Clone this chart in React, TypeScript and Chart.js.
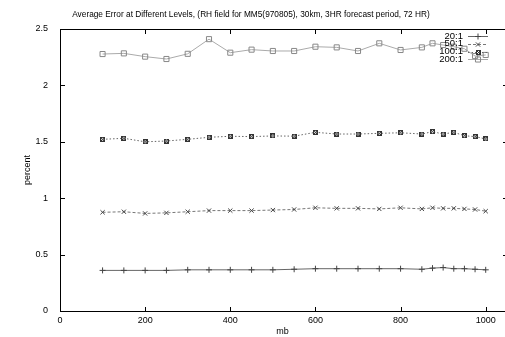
import React, { useEffect, useRef } from "react";
import { Chart, registerables } from "chart.js";
Chart.register(...registerables);

const titleText =
  "Average Error at Different Levels, (RH field for MM5(970805), 30km, 3HR forecast period, 72 HR)";
const xAxisLabel = "mb";
const yAxisLabel = "percent";

const levels = [100, 150, 200, 250, 300, 350, 400, 450, 500, 550, 600, 650, 700, 750, 800, 850, 875, 900, 925, 950, 975, 1000];

const seriesNames = ["20:1", "50:1", "100:1", "200:1"];

const ratio20 = [0.36, 0.36, 0.36, 0.36, 0.365, 0.365, 0.365, 0.365, 0.365, 0.37, 0.375, 0.375, 0.375, 0.375, 0.375, 0.37, 0.38, 0.385, 0.375, 0.375, 0.37, 0.365];
const ratio50 = [0.875, 0.88, 0.865, 0.87, 0.88, 0.89, 0.89, 0.89, 0.895, 0.9, 0.915, 0.91, 0.91, 0.905, 0.915, 0.905, 0.915, 0.91, 0.91, 0.905, 0.9, 0.885];
const ratio100 = [1.522, 1.531, 1.5, 1.507, 1.522, 1.54, 1.549, 1.546, 1.552, 1.55, 1.584, 1.569, 1.569, 1.575, 1.58, 1.569, 1.59, 1.569, 1.584, 1.554, 1.546, 1.525];
const ratio200 = [2.278, 2.284, 2.255, 2.234, 2.28, 2.41, 2.29, 2.317, 2.305, 2.305, 2.343, 2.337, 2.305, 2.373, 2.314, 2.337, 2.373, 2.358, 2.343, 2.325, 2.26, 2.27];

const xTicks = [0, 200, 400, 600, 800, 1000];
const yTicks = [0, 0.5, 1, 1.5, 2, 2.5];

const FONT = "'Liberation Sans', Arial, sans-serif";
const CANVAS_W = 512;

function makeBoxedX(color: string) {
  const c = document.createElement("canvas");
  c.width = 5;
  c.height = 5;
  const g = c.getContext("2d")!;
  g.strokeStyle = color;
  g.lineWidth = 1;
  g.strokeRect(0.5, 0.5, 4, 4);
  g.beginPath();
  g.moveTo(1, 1);
  g.lineTo(4, 4);
  g.moveTo(4, 1);
  g.lineTo(1, 4);
  g.stroke();
  return c;
}

function drawPoint(ctx: CanvasRenderingContext2D, style: any, r: number, x: number, y: number) {
  if (typeof style !== "string") {
    ctx.drawImage(style, Math.round(x - style.width / 2), Math.round(y - style.height / 2));
    return;
  }
  ctx.beginPath();
  if (style === "cross") {
    ctx.moveTo(x, y - r);
    ctx.lineTo(x, y + r);
    ctx.moveTo(x - r, y);
    ctx.lineTo(x + r, y);
  } else if (style === "crossRot") {
    const d = r * Math.SQRT1_2;
    ctx.moveTo(x - d, y - d);
    ctx.lineTo(x + d, y + d);
    ctx.moveTo(x + d, y - d);
    ctx.lineTo(x - d, y + d);
  } else if (style === "rect") {
    const s = r * Math.SQRT1_2;
    ctx.rect(x - s, y - s, 2 * s, 2 * s);
  }
  ctx.stroke();
}

export default function App() {
  const ref = useRef<HTMLCanvasElement>(null);

  useEffect(() => {
    const boxed = makeBoxedX("#333");
    const styles = [
      { color: "#666", dash: [] as number[], point: "cross" as any, radius: 3, pc: "#444" },
      { color: "#777", dash: [3, 2], point: "crossRot" as any, radius: 3, pc: "#444" },
      { color: "#666", dash: [1.5, 2], point: boxed as any, radius: 3, pc: "#333" },
      { color: "#aaa", dash: [] as number[], point: "rect" as any, radius: 3.6, pc: "#888" },
    ];
    const values = [ratio20, ratio50, ratio100, ratio200];

    const framePlugin = {
      id: "gnuframe",
      afterDraw(chart: any) {
        const ctx: CanvasRenderingContext2D = chart.ctx;
        const xs = chart.scales.x;
        const ys = chart.scales.y;
        const L = Math.round(xs.left);
        const R = Math.round(xs.right);
        const T = Math.round(ys.top);
        const B = Math.round(ys.bottom);
        ctx.save();
        ctx.globalAlpha = 1;
        ctx.globalCompositeOperation = "source-over";
        ctx.setLineDash([]);
        ctx.fillStyle = "#000";
        ctx.fillRect(L, T, R - L + 1, 1);
        ctx.fillRect(L, B, R - L + 1, 1);
        ctx.fillRect(L, T, 1, B - T + 1);
        ctx.fillRect(R, T, 1, B - T + 1);
        for (const v of yTicks) {
          const y = Math.round(ys.getPixelForValue(v));
          ctx.fillRect(L, y, 5, 1);
          ctx.fillRect(R - 4, y, 5, 1);
        }
        for (const v of xTicks) {
          const x = Math.round(xs.getPixelForValue(v));
          ctx.fillRect(x, B - 4, 1, 5);
          ctx.fillRect(x, T, 1, 5);
        }

        // titles
        ctx.font = `8.3px ${FONT}`;
        ctx.textAlign = "center";
        ctx.textBaseline = "middle";
        ctx.fillText(titleText, 251, 15);
        ctx.font = `9px ${FONT}`;
        ctx.fillText(xAxisLabel, (L + 505) / 2, 332);
        ctx.save();
        ctx.translate(28, (T + B) / 2);
        ctx.rotate(-Math.PI / 2);
        ctx.fillText(yAxisLabel, 0, 0);
        ctx.restore();

        // legend
        const textRight = 463;
        const sx0 = 468;
        const sx1 = 488;
        ctx.font = `9.5px ${FONT}`;
        seriesNames.forEach((name, i) => {
          const y = 36 + i * 7.8;
          const yy = Math.round(y) + 0.5;
          const st = styles[i];
          ctx.fillStyle = "#000";
          ctx.textAlign = "right";
          ctx.fillText(name, textRight, y);
          ctx.strokeStyle = st.color;
          ctx.lineWidth = 1;
          ctx.setLineDash(st.dash);
          ctx.beginPath();
          ctx.moveTo(sx0, yy);
          ctx.lineTo(sx1, yy);
          ctx.stroke();
          ctx.setLineDash([]);
          ctx.strokeStyle = st.pc;
          drawPoint(ctx, st.point, st.radius, (sx0 + sx1) / 2, yy);
        });
        ctx.restore();
      },
    };

    const chart = new Chart(ref.current!, {
      type: "line",
      data: {
        datasets: seriesNames.map((name, i) => ({
          label: name,
          data: levels.map((lv, j) => ({ x: lv, y: values[i][j] })),
          borderColor: styles[i].color,
          borderWidth: 1,
          borderDash: styles[i].dash,
          pointStyle: styles[i].point,
          pointRadius: styles[i].radius,
          pointBorderColor: styles[i].pc,
          pointBackgroundColor: "rgba(255,255,255,0)",
          pointBorderWidth: 1,
          tension: 0,
          fill: false,
        })),
      },
      options: {
        animation: false,
        responsive: false,
        layout: { padding: { top: 29, right: 0, left: 0, bottom: 0 } },
        plugins: {
          legend: { display: false },
          title: { display: false },
          tooltip: { enabled: false },
        },
        scales: {
          x: {
            type: "linear",
            min: 0,
            max: 1050,
            grid: { display: false, drawTicks: false },
            border: { display: true, color: "#000", width: 1 },
            afterBuildTicks: (s: any) => {
              s.ticks = xTicks.map((v) => ({ value: v }));
            },
            afterFit: (s: any) => {
              s.height = 26;
            },
            ticks: {
              color: "#000",
              font: { family: FONT, size: 9 },
              padding: 4,
              maxRotation: 0,
              callback: (v: any) => String(v),
            },
          },
          y: {
            type: "linear",
            min: 0,
            max: 2.5,
            grid: { display: false, drawTicks: false },
            border: { display: true, color: "#000", width: 1 },
            afterBuildTicks: (s: any) => {
              s.ticks = yTicks.map((v) => ({ value: v }));
            },
            afterFit: (s: any) => {
              s.width = 60;
            },
            ticks: {
              color: "#000",
              font: { family: FONT, size: 9 },
              padding: 12,
              callback: (v: any) => String(v),
            },
          },
        },
      },
      plugins: [framePlugin],
    });
    return () => chart.destroy();
  }, []);

  return (
    <div style={{ position: "fixed", left: 0, top: 0, width: 505, height: 337, overflow: "hidden", background: "#fff" }}>
      <canvas ref={ref} width={CANVAS_W} height={337} style={{ width: CANVAS_W, height: 337, display: "block" }} />
    </div>
  );
}
